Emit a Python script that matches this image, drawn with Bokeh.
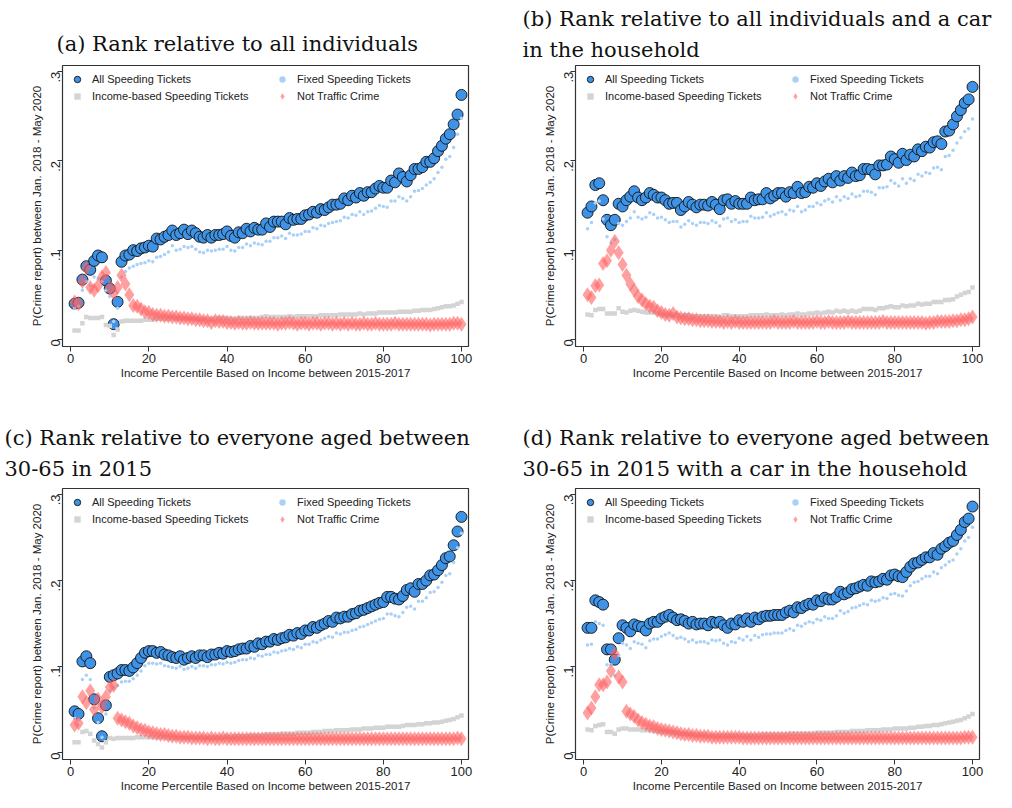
from bokeh.plotting import figure
from bokeh.layouts import column, row
from bokeh.models import Spacer, Legend, LegendItem, FixedTicker, Title
from bokeh.embed import file_html
from bokeh.resources import INLINE
import math

pct = list(range(1, 101))

a_all = [.040,.041,.067,.082,.078,.088,.094,.092,.066,.057,.017,.042,.087,.094,.095,.100,.099,.102,.103,.105,
 .104,.113,.112,.115,.117,.122,.117,.119,.123,.118,.122,.119,.115,.114,.117,.114,.117,.117,.118,.121,
 .116,.114,.120,.119,.124,.121,.125,.123,.123,.130,.126,.132,.132,.132,.129,.136,.134,.135,.135,.139,
 .140,.143,.142,.146,.145,.148,.151,.151,.152,.158,.156,.161,.159,.164,.161,.165,.165,.169,.172,.170,
 .170,.178,.176,.186,.182,.177,.184,.191,.191,.193,.199,.199,.203,.211,.217,.225,.230,.241,.252,.274]
a_fixed = [.035,.037,.055,.065,.060,.070,.068,.065,.055,.048,.020,.035,.070,.076,.080,.082,.084,.085,.086,.088,
 .087,.092,.093,.095,.098,.105,.100,.101,.104,.103,.104,.101,.098,.097,.100,.099,.100,.101,.101,.104,
 .100,.099,.103,.103,.107,.105,.108,.107,.106,.110,.110,.114,.114,.116,.113,.119,.117,.117,.118,.121,
 .121,.125,.124,.128,.127,.130,.131,.132,.133,.137,.136,.140,.139,.143,.140,.143,.144,.147,.150,.149,
 .148,.155,.155,.160,.158,.155,.160,.166,.167,.169,.173,.176,.180,.187,.193,.202,.205,.215,.230,.248]
a_income = [.010,.010,.018,.025,.024,.024,.024,.025,.016,.015,.005,.011,.020,.021,.021,.021,.021,.021,.022,.022,
 .022,.023,.023,.023,.023,.024,.023,.023,.024,.023,.024,.023,.023,.023,.023,.023,.023,.024,.024,.024,
 .023,.023,.024,.024,.024,.024,.024,.024,.025,.026,.025,.025,.025,.025,.025,.026,.025,.026,.026,.026,
 .026,.026,.026,.027,.027,.027,.027,.027,.028,.028,.028,.028,.028,.029,.028,.029,.029,.029,.030,.030,
 .030,.030,.030,.031,.031,.031,.031,.032,.032,.033,.033,.033,.034,.035,.036,.037,.037,.038,.040,.042]
a_nt = [.042,.040,.065,.080,.058,.055,.060,.070,.075,.058,.052,.058,.072,.062,.050,.038,.037,.034,.031,.030,
 .028,.027,.027,.026,.026,.025,.025,.024,.024,.023,.023,.022,.022,.021,.021,.019,.021,.020,.020,.019,
 .019,.018,.019,.018,.018,.019,.018,.018,.018,.018,.018,.018,.017,.018,.018,.019,.018,.017,.018,.018,
 .017,.018,.018,.017,.018,.018,.017,.018,.017,.018,.017,.018,.017,.017,.018,.017,.017,.018,.017,.017,
 .017,.017,.018,.017,.017,.017,.017,.017,.017,.017,.017,.016,.017,.017,.017,.017,.017,.018,.018,.017]

b_all = [.142,.149,.173,.175,.156,.134,.128,.134,.152,.149,.156,.160,.166,.159,.156,.159,.164,.162,.159,.159,
 .156,.152,.153,.153,.145,.149,.154,.151,.148,.151,.151,.150,.154,.151,.146,.156,.157,.152,.155,.152,
 .152,.152,.159,.156,.157,.157,.164,.158,.161,.164,.164,.160,.165,.164,.171,.164,.165,.171,.170,.175,
 .172,.177,.180,.176,.183,.178,.183,.181,.187,.183,.184,.191,.191,.190,.185,.195,.195,.196,.205,.202,
 .198,.208,.201,.207,.205,.213,.211,.216,.215,.221,.222,.219,.233,.234,.241,.250,.257,.265,.269,.283]
b_fixed = [.124,.131,.153,.155,.135,.115,.108,.112,.130,.128,.132,.136,.143,.137,.135,.137,.142,.140,.136,.137,
 .134,.131,.132,.132,.126,.129,.133,.130,.128,.131,.131,.130,.133,.131,.127,.135,.136,.132,.134,.131,
 .132,.132,.138,.136,.136,.137,.142,.138,.140,.142,.143,.140,.145,.144,.149,.143,.145,.149,.149,.153,
 .151,.155,.157,.154,.160,.156,.160,.158,.163,.160,.161,.166,.166,.165,.162,.170,.170,.171,.178,.175,
 .172,.180,.175,.180,.178,.185,.183,.187,.186,.192,.193,.190,.205,.206,.212,.220,.226,.233,.236,.247]
b_income = [.028,.027,.033,.034,.034,.029,.029,.029,.035,.031,.030,.032,.033,.032,.031,.030,.030,.030,.029,.028,
 .027,.027,.028,.027,.026,.027,.027,.026,.026,.026,.026,.026,.026,.026,.025,.027,.027,.026,.026,.026,
 .026,.026,.027,.027,.027,.027,.028,.027,.027,.027,.028,.027,.028,.028,.029,.028,.028,.029,.029,.030,
 .029,.030,.031,.030,.032,.031,.032,.031,.032,.031,.032,.034,.034,.034,.033,.035,.035,.036,.037,.036,
 .036,.038,.037,.038,.038,.040,.039,.040,.040,.042,.042,.042,.044,.044,.045,.048,.050,.052,.053,.058]
b_nt = [.050,.047,.060,.061,.085,.088,.100,.110,.097,.084,.072,.062,.055,.048,.044,.040,.037,.036,.032,.030,
 .028,.027,.029,.025,.024,.023,.023,.022,.022,.021,.021,.021,.020,.020,.020,.019,.020,.019,.020,.019,
 .019,.019,.019,.019,.019,.019,.019,.019,.020,.019,.019,.019,.019,.020,.019,.019,.019,.019,.019,.020,
 .019,.019,.020,.019,.019,.019,.019,.020,.019,.019,.019,.019,.019,.019,.019,.019,.020,.019,.019,.019,
 .019,.019,.019,.019,.019,.019,.019,.018,.019,.019,.020,.020,.020,.020,.021,.021,.022,.022,.023,.025]

c_all = [.048,.045,.106,.112,.104,.062,.040,.019,.055,.088,.090,.092,.096,.096,.095,.099,.104,.110,.116,.118,
 .118,.116,.117,.114,.113,.111,.110,.112,.108,.110,.112,.110,.113,.113,.111,.114,.114,.116,.115,.118,
 .117,.118,.120,.121,.121,.124,.123,.127,.126,.129,.129,.132,.131,.133,.134,.137,.136,.139,.138,.142,
 .142,.146,.145,.148,.150,.153,.152,.157,.156,.158,.158,.161,.162,.165,.166,.168,.170,.172,.174,.175,
 .181,.181,.179,.178,.182,.189,.191,.187,.196,.196,.200,.206,.207,.212,.218,.226,.228,.241,.257,.274]
c_fixed = [.040,.038,.085,.090,.085,.052,.035,.018,.045,.072,.075,.078,.082,.083,.083,.086,.090,.095,.101,.104,
 .104,.103,.104,.101,.100,.099,.098,.100,.097,.098,.100,.098,.101,.101,.100,.102,.102,.104,.103,.105,
 .104,.105,.107,.108,.108,.110,.109,.113,.112,.114,.114,.117,.116,.118,.119,.121,.120,.123,.122,.126,
 .126,.129,.128,.131,.133,.135,.134,.139,.138,.140,.140,.142,.143,.146,.147,.149,.151,.153,.155,.156,
 .161,.161,.159,.158,.163,.169,.170,.167,.176,.176,.180,.186,.187,.192,.198,.206,.208,.221,.238,.255]
c_income = [.012,.012,.024,.025,.022,.014,.010,.006,.012,.017,.016,.017,.017,.017,.017,.017,.018,.018,.018,.018,
 .018,.018,.018,.018,.017,.017,.017,.017,.017,.017,.018,.017,.018,.018,.017,.018,.018,.018,.018,.019,
 .018,.019,.019,.019,.019,.020,.020,.020,.020,.021,.021,.021,.021,.022,.022,.022,.022,.023,.023,.023,
 .023,.024,.024,.024,.025,.025,.025,.026,.026,.026,.026,.027,.027,.027,.028,.028,.028,.029,.029,.029,
 .030,.030,.030,.030,.031,.032,.032,.032,.033,.033,.034,.034,.035,.035,.036,.037,.038,.039,.041,.043]
c_nt = [.032,.034,.065,.058,.072,.050,.062,.053,.065,.076,.078,.040,.038,.036,.034,.031,.029,.027,.026,.024,
 .023,.022,.021,.021,.020,.019,.019,.018,.018,.018,.017,.017,.017,.017,.016,.017,.016,.016,.017,.016,
 .016,.016,.016,.016,.016,.016,.016,.016,.016,.016,.016,.016,.016,.016,.016,.016,.016,.016,.016,.016,
 .016,.016,.016,.016,.016,.016,.016,.016,.016,.016,.016,.016,.016,.016,.016,.016,.016,.016,.016,.016,
 .016,.016,.016,.016,.016,.016,.016,.016,.016,.016,.016,.016,.016,.016,.016,.016,.016,.016,.017,.016]

d_all = [.145,.145,.177,.175,.172,.120,.120,.108,.133,.148,.145,.141,.149,.147,.146,.142,.150,.152,.152,.156,
 .158,.160,.157,.154,.155,.153,.150,.152,.149,.150,.150,.148,.152,.151,.152,.148,.145,.150,.149,.154,
 .152,.156,.152,.157,.155,.158,.159,.159,.160,.160,.160,.163,.165,.163,.169,.168,.171,.173,.172,.177,
 .176,.180,.178,.178,.181,.187,.184,.186,.190,.191,.193,.195,.194,.199,.198,.199,.202,.201,.206,.207,
 .205,.204,.210,.216,.220,.221,.224,.227,.227,.232,.230,.237,.240,.244,.246,.253,.259,.268,.272,.286]
d_fixed = [.125,.126,.152,.150,.148,.102,.102,.090,.113,.127,.125,.121,.129,.127,.126,.122,.130,.132,.132,.135,
 .137,.139,.136,.133,.134,.132,.129,.131,.128,.129,.129,.127,.131,.130,.131,.127,.125,.129,.128,.133,
 .131,.135,.131,.136,.134,.137,.138,.138,.139,.139,.139,.142,.144,.142,.148,.147,.150,.152,.151,.155,
 .154,.158,.156,.156,.159,.165,.162,.164,.168,.169,.171,.173,.172,.177,.176,.177,.180,.179,.184,.185,
 .183,.182,.188,.194,.198,.199,.202,.205,.205,.210,.208,.215,.218,.222,.224,.231,.237,.246,.250,.262]
d_income = [.027,.026,.031,.032,.033,.024,.024,.022,.027,.028,.028,.027,.027,.027,.026,.026,.026,.025,.025,.024,
 .024,.024,.023,.023,.022,.022,.022,.021,.021,.021,.021,.020,.020,.020,.020,.020,.020,.020,.020,.020,
 .020,.020,.020,.020,.020,.021,.021,.021,.021,.021,.021,.021,.022,.022,.022,.022,.022,.022,.022,.023,
 .023,.023,.023,.023,.024,.024,.024,.024,.025,.025,.025,.025,.026,.026,.026,.026,.027,.027,.027,.028,
 .028,.028,.028,.029,.029,.030,.030,.031,.031,.032,.032,.033,.034,.035,.036,.037,.038,.040,.042,.045]
d_nt = [.046,.052,.065,.079,.079,.082,.095,.115,.088,.082,.048,.045,.042,.038,.035,.033,.031,.030,.028,.027,
 .026,.025,.024,.023,.022,.021,.021,.020,.020,.019,.019,.019,.018,.018,.018,.018,.018,.018,.018,.018,
 .017,.017,.017,.017,.017,.017,.017,.017,.017,.017,.017,.017,.017,.017,.017,.017,.017,.017,.017,.017,
 .017,.017,.017,.017,.017,.017,.017,.017,.017,.017,.017,.017,.017,.017,.017,.017,.017,.017,.017,.017,
 .017,.017,.017,.017,.017,.017,.017,.017,.017,.017,.017,.017,.017,.017,.017,.017,.017,.018,.018,.018]

titles = ["(a) Rank relative to all individuals",
          "(b) Rank relative to all individuals and a car\nin the household",
          "(c) Rank relative to everyone aged between\n30-65 in 2015",
          "(d) Rank relative to everyone aged between\n30-65 in 2015 with a car in the household"]
x_label = "Income Percentile Based on Income between 2015-2017"
y_label = "P(Crime report) between Jan. 2018 - May 2020"
y_ticks = [0, 0.1, 0.2, 0.3]
y_tick_labels = {0: "0", 0.1: ".1", 0.2: ".2", 0.3: ".3"}
names = ["All Speeding Tickets", "Fixed Speeding Tickets", "Income-based Speeding Tickets", "Not Traffic Crime"]

SANS = "Liberation Sans"
SERIF = "DejaVu Serif"

def make(i, data, w, h, bt, bb, bl, br, offset, standoff):
    allv, fixed, inc, nt = data
    p = figure(width=w, height=h, output_backend="svg", toolbar_location=None,
               x_range=(-2.1, 101.8), y_range=(-0.008, 0.307),
               min_border_top=bt, min_border_bottom=bb, min_border_left=bl, min_border_right=br)
    p.title = Title(text=titles[i], text_font=SERIF, text_font_size="21px",
                    text_font_style="normal", align="left", offset=offset, text_color="#111",
                    text_line_height=1.3, standoff=standoff)
    p.xgrid.visible = False
    p.ygrid.visible = False
    p.outline_line_color = "#333"
    p.outline_line_width = 1.2
    p.background_fill_color = "white"
    r1 = p.scatter(pct, allv, marker="circle", size=11, fill_color="#3f93e6", line_color="#111", line_width=0.9)
    r2 = p.scatter(pct, fixed, marker="circle", size=3.5, fill_color="#a9d1f7", line_color=None)
    r3 = p.scatter(pct, inc, marker="square", size=4.5, fill_color="#d4d4d4", line_color=None)
    r4 = p.scatter(pct, nt, marker="diamond", size=15, fill_color="#ff6060", fill_alpha=0.6, line_color=None)
    leg = Legend(items=[LegendItem(label=names[0], renderers=[r1]), LegendItem(label=names[2], renderers=[r3]),
                        LegendItem(label=names[1], renderers=[r2]), LegendItem(label=names[3], renderers=[r4])],
                 location="top_left", ncols=2, background_fill_alpha=0, border_line_color=None,
                 label_text_font=SANS, label_text_font_size="11px", label_text_color="#222",
                 glyph_width=18, glyph_height=16, label_height=16, spacing=1, padding=2, margin=6,
                 label_width=180, label_standoff=6)
    p.add_layout(leg, "center")
    for ax in (p.xaxis, p.yaxis):
        ax.axis_label_text_font = SANS
        ax.axis_label_text_font_size = "11.5px"
        ax.axis_label_text_font_style = "normal"
        ax.axis_label_text_color = "#222"
        ax.major_label_text_font = SANS
        ax.major_label_text_font_size = "13px"
        ax.major_label_text_color = "#222"
        ax.minor_tick_line_color = None
        ax.major_tick_out = 5
        ax.major_tick_in = 0
        ax.axis_line_color = None
        ax.major_tick_line_color = "#333"
        ax.axis_label_standoff = 1
        ax.major_label_standoff = 2
    p.xaxis.axis_label = x_label
    p.yaxis.axis_label = y_label
    p.xaxis.ticker = FixedTicker(ticks=[0, 20, 40, 60, 80, 100])
    p.yaxis.ticker = FixedTicker(ticks=y_ticks)
    p.yaxis.major_label_overrides = y_tick_labels
    p.yaxis.major_label_orientation = math.pi / 2
    return p

W = 488
p1 = make(0, (a_all, a_fixed, a_income, a_nt), W, 394, 65, 48, 62, 20, -6, 20)
p2 = make(1, (b_all, b_fixed, b_income, b_nt), W, 394, 65, 48, 60, 24, -53, 6)
p3 = make(2, (c_all, c_fixed, c_income, c_nt), W, 400, 94, 32, 62, 20, -58, 14)
p4 = make(3, (d_all, d_fixed, d_income, d_nt), W, 400, 94, 32, 60, 24, -53, 14)

layout = column(row(p1, Spacer(width=27), p2), row(p3, Spacer(width=27), p4))
open("out.html", "w").write(file_html(layout, INLINE))
